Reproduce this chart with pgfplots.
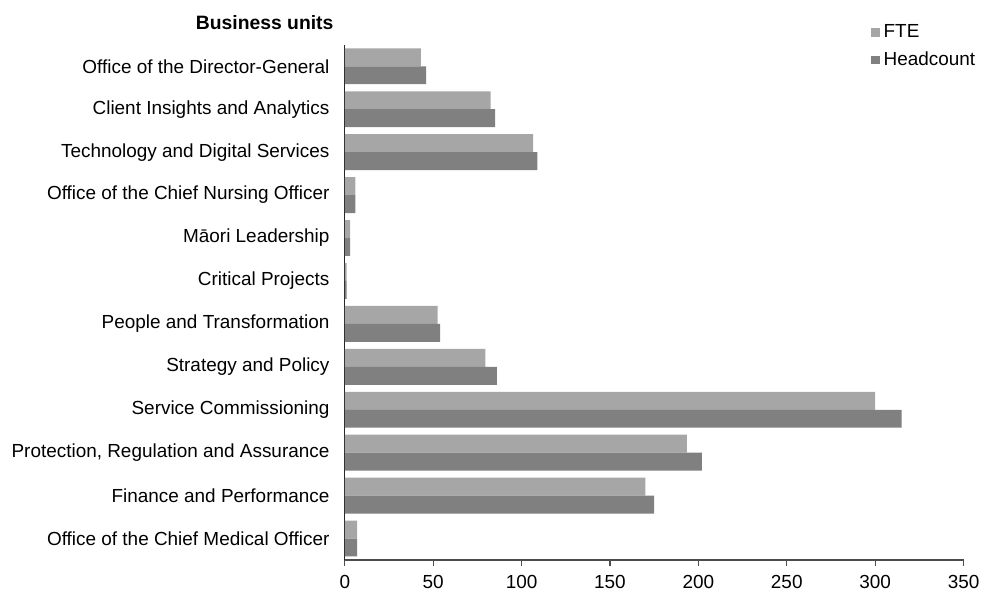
\documentclass[border=0pt]{standalone}
\usepackage{fontspec}
\setmainfont{Liberation Sans}
\usepackage{pgfplots}
\pgfplotsset{compat=1.18}
\definecolor{fteC}{HTML}{A6A6A6}
\definecolor{hcC}{HTML}{808080}
\begin{document}
\begin{tikzpicture}
\begin{axis}[
  scale only axis,
  width=310.5pt, height=258.5pt,
  xbar, bar width=9pt,
  xmin=0, xmax=350,
  ymin=-0.5, ymax=11.5,
  axis x line*=bottom, axis y line*=left,
  x axis line style={black!70, line width=0.6pt},
  y axis line style={black!85, line width=0.6pt},
  xtick={0,50,...,350},
  tick align=outside,
  x tick style={black!70, line width=0.6pt},
  major tick length=3pt,
  ytick={0,...,11},
  y tick style={draw=none},
  yticklabels={Office of the Chief Medical Officer,Finance and Performance,{Protection, Regulation and Assurance},Service Commissioning,Strategy and Policy,People and Transformation,Critical Projects,Māori Leadership,Office of the Chief Nursing Officer,Technology and Digital Services,Client Insights and Analytics,Office of the Director-General},
  tick label style={font=\fontsize{9.5}{11}\selectfont},
  yticklabel style={inner xsep=0pt, xshift=-4.5pt},
  xticklabel style={yshift=-1pt},
  /pgf/number format/assume math mode=true,
  legend style={at={(0.8406,1.048)}, anchor=north west, xshift=3pt, draw=none, fill=none,
    font=\fontsize{9.5}{11}\selectfont, row sep=1.5pt, inner sep=0pt,
    cells={anchor=west}},
  legend image code/.code={\fill[#1] (0pt,-2.1pt) rectangle (4.2pt,2.1pt);},
  clip=false,
]
\addplot[fill=fteC, draw=none, bar shift=4.5pt] coordinates {
 (7,0) (170,1) (193.5,2) (300,3) (79.5,4) (52.5,5) (1,6) (3,7) (6,8) (106.5,9) (82.5,10) (43,11)};
\addplot[fill=hcC, draw=none, bar shift=-4.5pt] coordinates {
 (7,0) (175,1) (202,2) (315,3) (86,4) (54,5) (1,6) (3,7) (6,8) (109,9) (85,10) (46,11)};
\legend{FTE,Headcount}
\coordinate (bl) at (rel axis cs:0,0);
\coordinate (tr) at (rel axis cs:1,1);
\node[anchor=east, font=\fontsize{9.7}{11}\selectfont\bfseries, inner sep=0pt] at ([xshift=-5.5pt,yshift=11pt]rel axis cs:0,1) {Business units};
\end{axis}
\path ([xshift=-173pt,yshift=-17pt]bl) rectangle ([xshift=9.5pt,yshift=22.5pt]tr);
\end{tikzpicture}
\end{document}
